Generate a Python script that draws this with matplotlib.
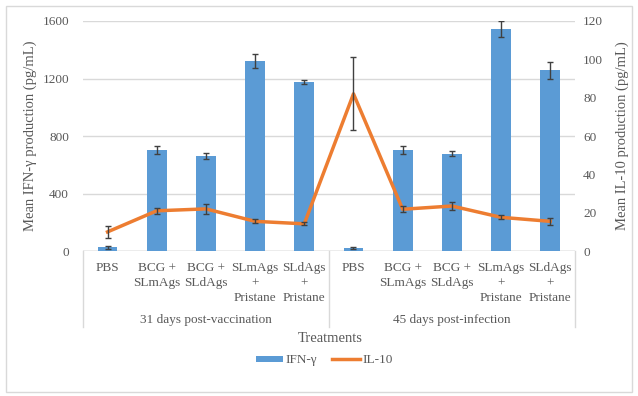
import matplotlib
matplotlib.use('Agg')
import matplotlib.pyplot as plt
from matplotlib.lines import Line2D
from matplotlib.patches import Rectangle

treatments = ['PBS', 'BCG +\nSLmAgs', 'BCG +\nSLdAgs', 'SLmAgs\n+\nPristane', 'SLdAgs\n+\nPristane',
              'PBS', 'BCG +\nSLmAgs', 'BCG +\nSLdAgs', 'SLmAgs\n+\nPristane', 'SLdAgs\n+\nPristane']
groups = ['31 days post-vaccination', '45 days post-infection']
ifn = [25, 705, 660, 1320, 1175, 20, 705, 678, 1545, 1258]
ifn_err = [8, 28, 20, 50, 12, 6, 28, 18, 58, 60]
il10 = [10, 21, 22, 15.5, 14.2, 82, 21.8, 23.5, 17.6, 15.5]
il10_err = [3, 1.5, 2.5, 1, 0.8, 19, 1.5, 2, 1, 2]

txt = '#595959'
plt.rcParams['font.family'] = ['Liberation Serif', 'DejaVu Serif']
plt.rcParams['font.size'] = 9.5

fig = plt.figure(figsize=(6.38, 3.96), dpi=100)
ax = fig.add_axes([0.130, 0.366, 0.771, 0.581])
ax2 = ax.twinx()

x = list(range(len(ifn)))
ax.bar(x, ifn, width=0.4, color='#5B9BD5', zorder=2, label='IFN-γ')
ax.errorbar(x, ifn, yerr=ifn_err, fmt='none', ecolor='#404040', elinewidth=1, capsize=2.5, zorder=3)
ax2.plot(x, il10, color='#ED7D31', lw=2.5, zorder=3, label='IL-10')
ax2.errorbar(x, il10, yerr=il10_err, fmt='none', ecolor='#404040', elinewidth=1, capsize=2.5, zorder=4)

ax.set_xlim(-0.5, 9.5)
ax.set_ylim(0, 1600)
ax.set_yticks([0, 400, 800, 1200, 1600])
ax2.set_ylim(0, 120)
ax2.set_yticks(range(0, 121, 20))
ax.yaxis.grid(True, color='#d9d9d9', lw=1, zorder=0)
ax.set_axisbelow(True)

for a in (ax, ax2):
    for s in ['top', 'left', 'right', 'bottom']:
        a.spines[s].set_visible(False)
    a.tick_params(length=0, colors=txt)
ax.tick_params(axis='y', pad=10)
ax2.tick_params(axis='y', pad=6)
ax.axhline(0, color='#bfbfbf', lw=1, zorder=1)

ax.set_xticks(x)
ax.set_xticklabels(treatments, color=txt, linespacing=1.35)
ax.tick_params(axis='x', pad=8)

tr = ax.get_xaxis_transform()
for xs in [-0.5, 4.5, 9.5]:
    ax.add_line(Line2D([xs, xs], [0, -0.33], transform=tr, color='#d9d9d9', lw=1, clip_on=False))
ax.text(2, -0.30, groups[0], transform=tr, ha='center', va='center', color=txt)
ax.text(7, -0.30, groups[1], transform=tr, ha='center', va='center', color=txt)

ax.set_ylabel('Mean IFN-γ production (pg/mL)', color=txt, fontsize=10.5, labelpad=4)
ax2.set_ylabel('Mean IL-10 production (pg/mL)', color=txt, fontsize=10.5, labelpad=9)
fig.text(0.517, 0.146, 'Treatments', ha='center', va='center', color=txt, fontsize=10.5)

h1, l1 = ax.get_legend_handles_labels()
h2, l2 = ax2.get_legend_handles_labels()
leg = fig.legend(h1 + h2, l1 + l2, loc='center', bbox_to_anchor=(0.508, 0.09), ncol=2,
                 frameon=False, handlelength=2.1, handleheight=0.35, columnspacing=1.1,
                 handletextpad=0.2, fontsize=9.5)
for t in leg.get_texts():
    t.set_color(txt)

fig.patches.append(Rectangle((0.01, 0.01), 0.98, 0.975, transform=fig.transFigure,
                             fill=False, edgecolor='#d9d9d9', lw=1))

fig.savefig('out.png', dpi=100)
